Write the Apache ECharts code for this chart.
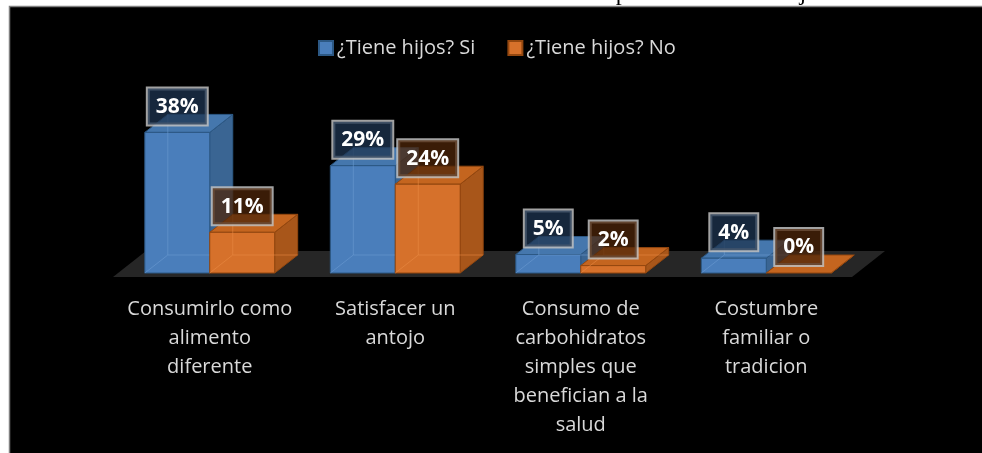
<!DOCTYPE html>
<html>
<head>
<meta charset="utf-8">
<script src="https://cdn.jsdelivr.net/npm/echarts@6/dist/echarts.min.js"></script>
<style>
  html, body { margin: 0; padding: 0; background: #fff; }
  #chart { width: 982px; height: 453px; }
</style>
</head>
<body>
<div id="chart"></div>
<script>
// datos
var categories = [
  'Consumirlo como\nalimento\ndiferente',
  'Satisfacer un\nantojo',
  'Consumo de\ncarbohidratos\nsimples que\nbenefician a la\nsalud',
  'Costumbre\nfamiliar o\ntradicion'
];
var seriesNames = ['¿Tiene hijos? Si', '¿Tiene hijos? No'];
var conHijos = [38, 29, 5, 4];
var sinHijos = [11, 24, 2, 0];

var titleText = 'Ilustración 7 Motivaciones de consumo de personas con/sin hijos';

// profundidad de las barras "3D"
var DX = 23, DY = -18;

var styles = [
  { front: '#4a7ebb', top: '#4577ad', side: '#3a6593', edge: '#2c5884', hidden: '#6d9dd3', label: 'rgba(30,52,80,0.75)' },
  { front: '#d6712b', top: '#c4651f', side: '#a8561a', edge: '#93470f', hidden: '#eb8c46', label: 'rgba(78,38,10,0.75)' }
];

function toData (arr) {
  return arr.map(function (v, i) { return [i, v]; });
}

function barRender (sIdx) {
  var st = styles[sIdx];
  return function (params, api) {
    var cat = api.value(0);
    var val = api.value(1);
    var base = api.coord([cat, 0]);
    var topPt = api.coord([cat, val]);
    var band = api.size([1, 0])[0];
    var w = band * 0.35;
    var x0 = sIdx === 0 ? base[0] - w : base[0];
    var x1 = x0 + w;
    var yb = base[1];
    var yt = topPt[1];
    var children = [
      { type: 'polygon', shape: { points: [[x1, yt], [x1 + DX, yt + DY], [x1 + DX, yb + DY], [x1, yb]] },
        style: { fill: st.side, stroke: st.edge, lineWidth: 1 } },
      { type: 'polygon', shape: { points: [[x0, yt], [x0 + DX, yt + DY], [x1 + DX, yt + DY], [x1, yt]] },
        style: { fill: st.top, stroke: st.edge, lineWidth: 1 } }
    ];
    if (yb - yt > 0.5) {
      children.push({ type: 'polygon', shape: { points: [[x0, yt], [x1, yt], [x1, yb], [x0, yb]] },
        style: { fill: st.front, stroke: st.edge, lineWidth: 1 } });
      // aristas traseras que se ven por transparencia
      children.push({ type: 'polyline', shape: { points: [[x0, yb], [x0 + DX, yb + DY], [x1 + DX, yb + DY]] },
        style: { stroke: st.hidden, lineWidth: 1, fill: null, opacity: 0.55 } });
      children.push({ type: 'line', shape: { x1: x0 + DX, y1: yb + DY, x2: x0 + DX, y2: yt + DY },
        style: { stroke: st.hidden, lineWidth: 1, opacity: 0.55 } });
    }
    children.push({
      type: 'text', z2: 100,
      style: {
        text: Math.round(val) + '%',
        x: (x0 + x1) / 2, y: yt - 8,
        align: 'center', verticalAlign: 'bottom',
        fill: '#ffffff',
        font: 'bold 21px "Open Sans"',
        lineHeight: 21,
        padding: [8, 8, 7, 8],
        backgroundColor: st.label,
        borderColor: 'rgba(190,190,190,0.85)',
        borderWidth: 2
      }
    });
    return { type: 'group', children: children };
  };
}

function floorRender (params, api) {
  var band = api.size([1, 0])[0];
  var first = api.coord([0, 0]);
  var last = api.coord([categories.length - 1, 0]);
  var y0 = first[1] + 4;
  var xa = first[0] - band / 2 - 4;
  var xb = last[0] + band / 2 - 7;
  return {
    type: 'polygon',
    shape: { points: [[xa, y0], [xb, y0], [xb + 33, y0 - 26], [xa + 33, y0 - 26]] },
    style: { fill: '#262626' }
  };
}

var chart = echarts.init(document.getElementById('chart'));

var option = {
  animation: false,
  backgroundColor: '#ffffff',
  graphic: [
    { type: 'rect', z: -10, shape: { x: 9.5, y: 6.5, width: 1000, height: 500 },
      style: { fill: '#000000', stroke: '#808080', lineWidth: 1.5 } },
    { type: 'text', z: -5, x: 515, y: 6,
      style: { text: titleText, font: '24px "Liberation Serif"', fill: '#000', align: 'center', verticalAlign: 'bottom' } }
  ],
  legend: {
    data: seriesNames,
    left: 313,
    top: 33,
    icon: 'rect',
    itemWidth: 14,
    itemHeight: 14,
    itemGap: 32,
    textStyle: { color: '#d9d9d9', fontSize: 20, fontFamily: 'Open Sans', lineHeight: 20, padding: [0, 0, 0, -1] }
  },
  grid: { left: 117, right: 123, top: 125, bottom: 180, containLabel: false },
  xAxis: {
    type: 'category',
    data: categories,
    axisLine: { show: false },
    axisTick: { show: false },
    axisLabel: {
      color: '#d9d9d9',
      fontFamily: 'Open Sans',
      fontSize: 20,
      lineHeight: 29,
      margin: 22,
      interval: 0
    }
  },
  yAxis: { type: 'value', min: 0, max: 40, show: false, splitLine: { show: false } },
  series: [
    { type: 'custom', name: 'piso', renderItem: floorRender, data: [[0, 0]], silent: true },
    { type: 'custom', name: seriesNames[0], renderItem: barRender(0), data: toData(conHijos),
      encode: { x: 0, y: 1 }, itemStyle: { color: styles[0].front, borderColor: styles[0].edge, borderWidth: 1 } },
    { type: 'custom', name: seriesNames[1], renderItem: barRender(1), data: toData(sinHijos),
      encode: { x: 0, y: 1 }, itemStyle: { color: styles[1].front, borderColor: styles[1].edge, borderWidth: 1 } }
  ]
};

chart.setOption(option);
</script>
</body>
</html>
